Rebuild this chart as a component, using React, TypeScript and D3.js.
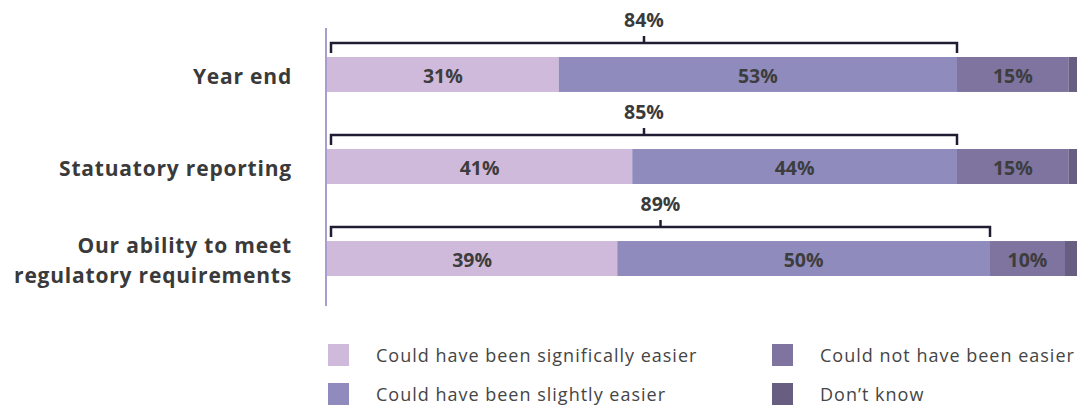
import React from "react";
import * as d3 from "d3";

const categories = ["Year end", "Statuatory reporting", "Our ability to meet\nregulatory requirements"];
const seriesNames = [
  "Could have been significally easier",
  "Could have been slightly easier",
  "Could not have been easier",
  "Don\u2019t know",
];
const significallyEasier = [30.9, 40.7, 38.7];
const slightlyEasier = [53.1, 43.3, 49.7];
const notEasier = [14.9, 14.9, 10.0];
const dontKnow = [1.1, 1.1, 1.6];
const segmentLabels = [
  ["31%", "53%", "15%", ""],
  ["41%", "44%", "15%", ""],
  ["39%", "50%", "10%", ""],
];
const bracketTotals = ["84%", "85%", "89%"];
const colors = ["#d0badb", "#8f8cbd", "#7e749f", "#675e81"];

const W = 1077;
const H = 407;
const FONT = "'Open Sans', Lato, sans-serif";

export default function App() {
  const x = d3.scaleLinear().domain([0, 100]).range([327, 1077]);
  const y = d3.scaleBand().domain(categories).range([57, 276]).paddingInner(0.62).paddingOuter(0);
  const series = [significallyEasier, slightlyEasier, notEasier, dontKnow];
  const rows = categories.map((c, i) => {
    const vals = series.map((s) => s[i]);
    const stack: { x0: number; x1: number; label: string; color: string }[] = [];
    let acc = 0;
    vals.forEach((v, j) => {
      stack.push({ x0: acc, x1: acc + v, label: segmentLabels[i][j], color: colors[j] });
      acc += v;
    });
    return { c, stack, bracketEnd: vals[0] + vals[1], total: bracketTotals[i] };
  });
  const bw = y.bandwidth();
  return (
    <svg width={W} height={H} style={{ position: "absolute", left: 0, top: 0, display: "block" }} fontFamily={FONT}>
      <rect width={W} height={H} fill="#ffffff" />
      {rows.map((r, i) => {
        const by = y(r.c)!;
        const lines = r.c.split("\n");
        const cy = by + bw / 2;
        const bx0 = x(0) + 4;
        const bx1 = x(r.bracketEnd);
        const ly = by - 14;
        return (
          <g key={i}>
            {r.stack.map((s, j) => (
              <g key={j}>
                <rect x={x(s.x0)} y={by} width={x(s.x1) - x(s.x0)} height={bw} fill={s.color} />
                {s.label && (
                  <text x={(x(s.x0) + x(s.x1)) / 2} y={cy + 1} dy="0.36em" textAnchor="middle" fontSize={19.5} fontWeight={700} fill="#3d3d3d">
                    {s.label}
                  </text>
                )}
              </g>
            ))}
            {lines.map((l, k) => (
              <text key={k} x={292} y={cy + 1.5 + (k - (lines.length - 1) / 2) * 30} dy="0.36em" textAnchor="end" fontSize={21} fontWeight={700} fill="#3a3a3a" letterSpacing={0.8}>
                {l}
              </text>
            ))}
            <path
              d={`M${bx0},${ly + 10}V${ly}H${bx1}V${ly + 10}M${(bx0 + bx1) / 2},${ly}V${ly - 7}`}
              fill="none"
              stroke="#1f1d33"
              strokeWidth={2.5}
            />
            <text x={(bx0 + bx1) / 2} y={ly - 16} textAnchor="middle" fontSize={19.5} fontWeight={700} fill="#3a3a3a">
              {r.total}
            </text>
          </g>
        );
      })}
      <line x1={326} x2={326} y1={28} y2={306} stroke="#a99dcd" strokeWidth={2} />
      {seriesNames.map((n, j) => {
        const col = j < 2 ? 0 : 1;
        const row = j % 2;
        const lx = col === 0 ? 328 : 772;
        const ly = 344 + row * 39;
        return (
          <g key={j}>
            <rect x={lx} y={ly} width={21} height={22} fill={colors[j]} />
            <text x={lx + 48} y={ly + 12} dy="0.36em" fontSize={18} fill="#454545" letterSpacing={1}>
              {n}
            </text>
          </g>
        );
      })}
    </svg>
  );
}
